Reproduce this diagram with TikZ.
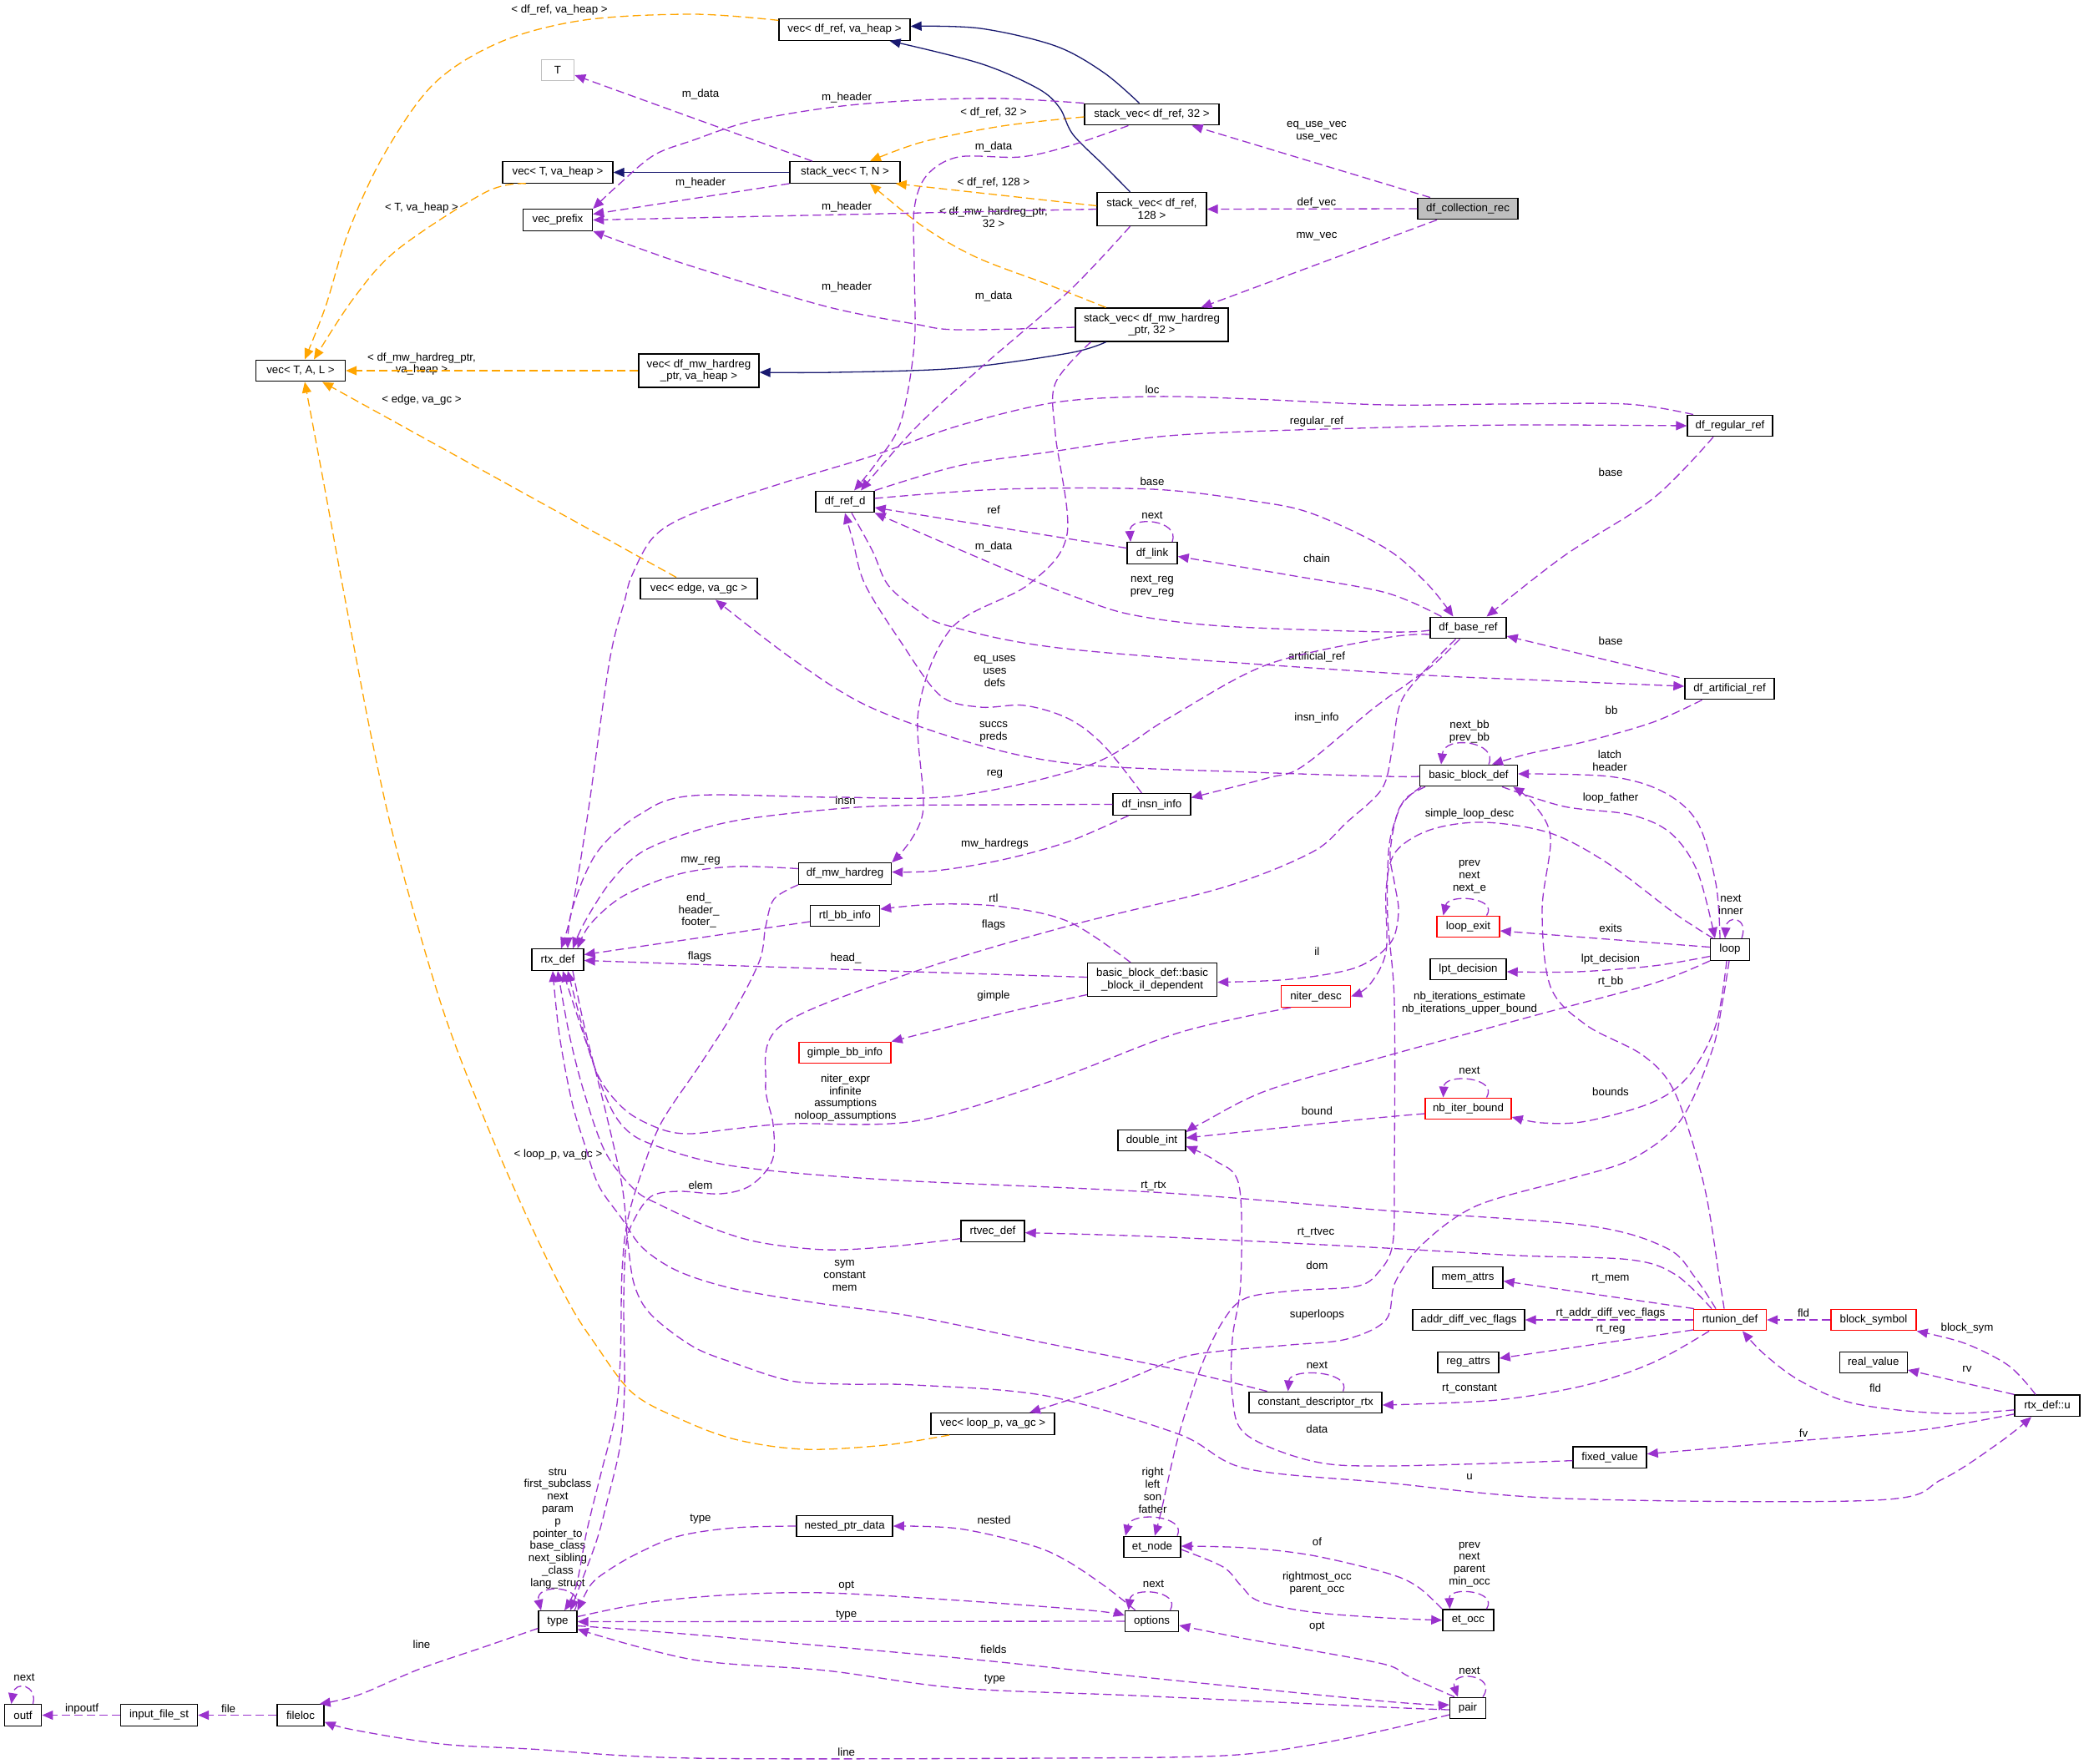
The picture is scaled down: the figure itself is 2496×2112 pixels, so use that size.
\documentclass[tikz,border=0pt]{standalone}
\usepackage{fontspec}
\setmainfont{Liberation Sans}
\usetikzlibrary{arrows.meta}
\definecolor{usec}{HTML}{9A32CD}
\definecolor{tmplc}{HTML}{FFA500}
\definecolor{inhc}{HTML}{191970}
\definecolor{grayfill}{HTML}{BFBFBF}
\definecolor{redb}{HTML}{FF0000}
\begin{document}
\begin{tikzpicture}[x=1pt,y=-1pt,
  box/.style={draw=black, line width=1.4pt, fill=white, inner xsep=2pt, inner ysep=1pt, minimum height=25.5pt, align=center, font=\fontsize{13.3}{14.6}\selectfont},
  boxtwo/.style={box, minimum height=40pt},
  redbox/.style={box, draw=redb},
  lbl/.style={align=center, inner sep=0pt, font=\fontsize{13.3}{14.8}\selectfont},
  usedge/.style={draw=usec, line width=1.3pt, dash pattern=on 10pt off 5pt, -{Triangle[length=13pt,width=11pt]}},
  tmpledge/.style={draw=tmplc, line width=1.3pt, dash pattern=on 10pt off 5pt, -{Triangle[length=13pt,width=11pt]}},
  inhedge/.style={draw=inhc, line width=1.3pt, -{Triangle[length=13pt,width=11pt]}},
  sm/.style={smooth, tension=0.55}
]
\useasboundingbox (0,0) rectangle (2496,2112);
\fill[white] (0,0) rectangle (2496,2112);

% ---------------- nodes ----------------
\node[box, minimum width=107pt] (vecTAL) at (360,444) {vec< T, A, L >};
\node[box, draw=grayfill, minimum width=39pt] (T) at (668,84) {T};
\node[box, minimum width=132pt] (vecTheap) at (668,206.5) {vec< T, va\_heap >};
\node[box, minimum width=83pt] (vecprefix) at (668,263.5) {vec\_prefix};
\node[box, minimum width=157pt] (vecdfref) at (1011.5,35.5) {vec< df\_ref, va\_heap >};
\node[box, minimum width=132pt] (svTN) at (1012,206.5) {stack\_vec< T, N >};
\node[box, minimum width=161pt] (sv32) at (1379.5,137) {stack\_vec< df\_ref, 32 >};
\node[boxtwo, minimum width=131pt] (sv128) at (1379.5,250.5) {stack\_vec< df\_ref,\\128 >};
\node[boxtwo, minimum width=183pt] (svmw) at (1379.5,389) {stack\_vec< df\_mw\_hardreg\\\_ptr, 32 >};
\node[boxtwo, minimum width=144pt] (vecmw) at (837,444) {vec< df\_mw\_hardreg\\\_ptr, va\_heap >};
\node[box, fill=grayfill, minimum width=120pt] (collection) at (1758,250) {df\_collection\_rec};
\node[box, minimum width=102pt] (regular) at (2072,510) {df\_regular\_ref};
\node[box, minimum width=70pt] (refd) at (1012,601) {df\_ref\_d};
\node[box, minimum width=60pt] (link) at (1380,662.5) {df\_link};
\node[box, minimum width=140pt] (vecedge) at (837,705) {vec< edge, va\_gc >};
\node[box, minimum width=91pt] (baseref) at (1758.5,752) {df\_base\_ref};
\node[box, minimum width=107pt] (artificial) at (2071.5,825) {df\_artificial\_ref};
\node[box, minimum width=117pt] (bbd) at (1759,929) {basic\_block\_def};
\node[box, minimum width=93pt] (insninfo) at (1379.5,963.5) {df\_insn\_info};
\node[box, minimum width=111pt] (mwhardreg) at (1012,1046.5) {df\_mw\_hardreg};
\node[box, minimum width=83pt] (rtlbb) at (1012,1097) {rtl\_bb\_info};
\node[box, minimum width=62pt] (rtxdef) at (668,1149.5) {rtx\_def};
\node[boxtwo, minimum width=155pt] (ildep) at (1380,1173.5) {basic\_block\_def::basic\\\_block\_il\_dependent};
\node[redbox, minimum width=83pt] (niter) at (1576,1193.5) {niter\_desc};
\node[redbox, minimum width=75pt] (loopexit) at (1758.5,1110) {loop\_exit};
\node[box, minimum width=47pt] (loop) at (2072,1137.5) {loop};
\node[box, minimum width=91pt] (lpt) at (1758.5,1161) {lpt\_decision};
\node[redbox, minimum width=110pt] (gimple) at (1012,1261) {gimple\_bb\_info};
\node[box, minimum width=81pt] (doubleint) at (1379.5,1366) {double\_int};
\node[redbox, minimum width=103pt] (nbiter) at (1758.5,1328) {nb\_iter\_bound};
\node[box, minimum width=76pt] (rtvec) at (1189,1474.6) {rtvec\_def};
\node[box, minimum width=84pt] (memattrs) at (1758,1530.5) {mem\_attrs};
\node[box, minimum width=134pt] (addrdiff) at (1759,1581) {addr\_diff\_vec\_flags};
\node[redbox, minimum width=87pt] (rtunion) at (2072,1581) {rtunion\_def};
\node[redbox, minimum width=102pt] (blocksym) at (2244,1581) {block\_symbol};
\node[box, minimum width=73pt] (regattrs) at (1758.5,1632) {reg\_attrs};
\node[box, minimum width=81pt] (realvalue) at (2243.7,1632) {real\_value};
\node[box, minimum width=159pt] (cdr) at (1575.6,1680) {constant\_descriptor\_rtx};
\node[box, minimum width=78pt] (rtxu) at (2452,1683.8) {rtx\_def::u};
\node[box, minimum width=148pt] (vecloop) at (1189,1705.5) {vec< loop\_p, va\_gc >};
\node[box, minimum width=88pt] (fixed) at (1928,1745.6) {fixed\_value};
\node[box, minimum width=115pt] (nested) at (1011.6,1828) {nested\_ptr\_data};
\node[box, minimum width=68pt] (etnode) at (1380,1853) {et\_node};
\node[box, minimum width=61pt] (etocc) at (1758.4,1940.7) {et\_occ};
\node[box, minimum width=64pt] (options) at (1379.6,1942) {options};
\node[box, minimum width=46pt] (type) at (668,1942.5) {type};
\node[box, minimum width=43pt] (pair) at (1758,2046) {pair};
\node[box, minimum width=44.5pt] (outf) at (27.5,2054.5) {outf};
\node[box, minimum width=92pt] (inputfile) at (190.5,2054.5) {input\_file\_st};
\node[box, minimum width=56pt] (fileloc) at (360,2054.5) {fileloc};

% ---------------- labels ----------------
\node[lbl] (l01) at (670,12) {< df\_ref, va\_heap >};
\node[lbl] (l02) at (839,113) {m\_data};
\node[lbl] (l03) at (1014,117) {m\_header};
\node[lbl] (l04) at (1190,135) {< df\_ref, 32 >};
\node[lbl] (l05) at (1577,157.5) {eq\_use\_vec\\use\_vec};
\node[lbl] (l06) at (1190,176) {m\_data};
\node[lbl] (l07) at (505,249) {< T, va\_heap >};
\node[lbl] (l08) at (839,219) {m\_header};
\node[lbl] (l09) at (1190,219) {< df\_ref, 128 >};
\node[lbl] (l10) at (1577,243) {def\_vec};
\node[lbl] (l11) at (1014,248) {m\_header};
\node[lbl] (l12) at (1190,260.5) {< df\_mw\_hardreg\_ptr,\\32 >};
\node[lbl] (l13) at (1577,283) {mw\_vec};
\node[lbl] (l14) at (1014,344) {m\_header};
\node[lbl] (l15) at (1190,354.5) {m\_data};
\node[lbl] (l16) at (505,436) {< df\_mw\_hardreg\_ptr,\\va\_heap >};
\node[lbl] (l17) at (1380,466.5) {loc};
\node[lbl] (l18) at (505,479) {< edge, va\_gc >};
\node[lbl] (l19) at (1577,505) {regular\_ref};
\node[lbl] (l20) at (1929,566) {base};
\node[lbl] (l21) at (1380,577) {base};
\node[lbl] (l22) at (1190,611) {ref};
\node[lbl] (l23) at (1380,617) {next};
\node[lbl] (l24) at (1190,655) {m\_data};
\node[lbl] (l25) at (1577,668.6) {chain};
\node[lbl] (l26) at (1380,702) {next\_reg\\prev\_reg};
\node[lbl] (l27) at (1929,767.5) {base};
\node[lbl] (l28) at (1577,787) {artificial\_ref};
\node[lbl] (l29) at (1191.5,804) {eq\_uses\\uses\\defs};
\node[lbl] (l30) at (1930,850.6) {bb};
\node[lbl] (l31) at (1577,860) {insn\_info};
\node[lbl] (l32) at (1190,876.5) {succs\\preds};
\node[lbl] (l33) at (1760,876.5) {next\_bb\\prev\_bb};
\node[lbl] (l34) at (1928,911) {latch\\header};
\node[lbl] (l35) at (1191.5,927) {reg};
\node[lbl] (l36) at (1929,956) {loop\_father};
\node[lbl] (l37) at (1012.6,958.5) {insn};
\node[lbl] (l38) at (1760,975.5) {simple\_loop\_desc};
\node[lbl] (l39) at (1191.5,1011) {mw\_hardregs};
\node[lbl] (l40) at (839,1031) {mw\_reg};
\node[lbl] (l41) at (1760,1050.5) {prev\\next\\next\_e};
\node[lbl] (l42) at (1190,1075.6) {rtl};
\node[lbl] (l43) at (837,1090.5) {end\_\\header\_\\footer\_};
\node[lbl] (l44) at (2073,1084) {next\\inner};
\node[lbl] (l45) at (1190,1108) {flags};
\node[lbl] (l46) at (1929,1111.4) {exits};
\node[lbl] (l47) at (1577.4,1139.5) {il};
\node[lbl] (l48) at (838,1146) {flags};
\node[lbl] (l49) at (1013,1148) {head\_};
\node[lbl] (l50) at (1929,1148.6) {lpt\_decision};
\node[lbl] (l51) at (1929,1175.7) {rt\_bb};
\node[lbl] (l52) at (1190,1193) {gimple};
\node[lbl] (l53) at (1760,1201.7) {nb\_iterations\_estimate\\nb\_iterations\_upper\_bound};
\node[lbl] (l54) at (1760,1282.7) {next};
\node[lbl] (l55) at (1929,1307.5) {bounds};
\node[lbl] (l56) at (1012.6,1315) {niter\_expr\\infinite\\assumptions\\noloop\_assumptions};
\node[lbl] (l57) at (1577.4,1330.5) {bound};
\node[lbl] (l58) at (668.5,1383) {< loop\_p, va\_gc >};
\node[lbl] (l59) at (839,1420) {elem};
\node[lbl] (l60) at (1381.5,1420.4) {rt\_rtx};
\node[lbl] (l61) at (1576,1477) {rt\_rtvec};
\node[lbl] (l62) at (1011.6,1527.7) {sym\\constant\\mem};
\node[lbl] (l63) at (1577.4,1515.8) {dom};
\node[lbl] (l64) at (1929,1531.7) {rt\_mem};
\node[lbl] (l65) at (1929,1572.6) {rt\_addr\_diff\_vec\_flags};
\node[lbl] (l66) at (2160,1572.6) {fld};
\node[lbl] (l67) at (1577.4,1575) {superloops};
\node[lbl] (l68) at (2356,1590.7) {block\_sym};
\node[lbl] (l69) at (1929,1593) {rt\_reg};
\node[lbl] (l70) at (1577.4,1634.8) {next};
\node[lbl] (l71) at (2356,1640) {rv};
\node[lbl] (l72) at (1760,1663) {rt\_constant};
\node[lbl] (l73) at (2246,1663) {fld};
\node[lbl] (l74) at (1577.4,1711.5) {data};
\node[lbl] (l75) at (2160,1716.5) {fv};
\node[lbl] (l76) at (1760,1768.7) {u};
\node[lbl] (l77) at (668,1830.7) {stru\\first\_subclass\\next\\param\\p\\pointer\_to\\base\_class\\next\_sibling\\\_class\\lang\_struct};
\node[lbl] (l78) at (1380.5,1785.4) {right\\left\\son\\father};
\node[lbl] (l79) at (839,1820) {type};
\node[lbl] (l80) at (1190.5,1821) {nested};
\node[lbl] (l81) at (1577.4,1846.8) {of};
\node[lbl] (l82) at (1760,1874) {prev\\next\\parent\\min\_occ};
\node[lbl] (l83) at (1577.4,1896.5) {rightmost\_occ\\parent\_occ};
\node[lbl] (l84) at (1381.5,1896.8) {next};
\node[lbl] (l85) at (1013.7,1900) {opt};
\node[lbl] (l86) at (1013.7,1935) {type};
\node[lbl] (l87) at (1577.4,1949) {opt};
\node[lbl] (l88) at (505,1970) {line};
\node[lbl] (l89) at (1190,1975.3) {fields};
\node[lbl] (l90) at (1760,2000.8) {next};
\node[lbl] (l91) at (29,2009) {next};
\node[lbl] (l92) at (1191.5,2011.7) {type};
\node[lbl] (l93) at (98,2046.6) {inpoutf};
\node[lbl] (l94) at (273.6,2046.6) {file};
\node[lbl] (l95) at (1013.7,2098.4) {line};

% ---------------- template edges ----------------
\draw[tmpledge] plot[sm] coordinates {(vecdfref.172) (830,17) (700,24) (600,50) (520,100) (460,185) (418,276) (390,367) ([xshift=5pt]vecTAL.north)};
\draw[tmpledge] plot[sm] coordinates {([xshift=-38pt]vecTheap.south) (582,230) (476,299) (423,358) ([xshift=16pt]vecTAL.north)};
\draw[tmpledge] (vecmw.west) -- (vecTAL.east);
\draw[tmpledge] ([xshift=-27pt]vecedge.north) -- ([xshift=26pt]vecTAL.south);
\draw[tmpledge] plot[sm] coordinates {([xshift=-52pt]vecloop.south) (1060,1731) (963,1736) (880,1724) (813,1699) (757,1668) (713,1610) (680,1558) (630,1455) (580,1340) (529,1205) (476,1021) (445,884) (410,700) (388,580) ([xshift=5pt]vecTAL.south)};
\draw[tmpledge] plot[sm] coordinates {([yshift=-3pt]sv32.west) (1200,151) (1105,170) ([xshift=30pt]svTN.north)};
\draw[tmpledge] ([yshift=4pt]sv128.west) -- ([xshift=-6pt]svTN.south east);
\draw[tmpledge] plot[sm] coordinates {([xshift=-55pt]svmw.north) (1253,340) (1169,308) (1105,271) ([xshift=30pt]svTN.south)};

% ---------------- inheritance edges ----------------
\draw[inhedge] plot[sm] coordinates {([xshift=-15pt]sv32.north) (1322,87) (1264,55) (1174,34) ([yshift=4pt]vecdfref.east)};
\draw[inhedge] plot[sm] coordinates {([xshift=-26pt]sv128.north) (1322,198) (1285,161) (1269,129) (1243,106) (1174,76) ([xshift=54pt]vecdfref.south)};
\draw[inhedge] (svTN.west) -- (vecTheap.east);
\draw[inhedge] plot[sm] coordinates {([xshift=-55pt]svmw.south) (1280,423) (1148,441) (1000,446) ([yshift=-2pt]vecmw.east)};

% ---------------- usage edges ----------------
\draw[usedge] ([xshift=-39pt]svTN.north) -- ([yshift=-6pt]T.east);
\draw[usedge] plot[sm] coordinates {(sv32.north west) (1200,118) (1100,120) (1000,128) (900,145) (830,168) (783,186) (740,222) (vecprefix.north east)};
\draw[usedge] (svTN.south west) -- ([yshift=7pt]vecprefix.east);
\draw[usedge] (sv128.west) -- (vecprefix.east);
\draw[usedge] plot[sm] coordinates {([yshift=-3pt]svmw.west) (1148,395) (1095,388) (989,367) (835,321) (767,298) (vecprefix.south east)};
\draw[usedge] plot[sm] coordinates {([xshift=-28pt]sv32.south) (1280,175) (1222,188) (1148,188) (1110,210) (1095,250) (1095,320) (1095,413) (1079,505) (1052,551) ([xshift=11pt]refd.north)};
\draw[usedge] plot[sm] coordinates {([xshift=-26pt]sv128.south) (1280,349) (1174,441) (1095,514) ([xshift=19pt]refd.north)};
\draw[usedge] plot[sm] coordinates {([xshift=-73pt]svmw.south) (1264,459) (1264,520) (1278,640) (1232,700) (1140,752) (1100,851) (1105,975) (mwhardreg.north east)};
\draw[usedge] ([xshift=-45pt]collection.north) -- ([xshift=48pt]sv32.south);
\draw[usedge] (collection.west) -- (sv128.east);
\draw[usedge] ([xshift=-37pt]collection.south) -- ([xshift=59pt]svmw.north);
\draw[usedge] plot[sm] coordinates {(refd.north east) (1148,558) (1253,542) (1412,521) (1660,512) (1820,509) (regular.west)};
\draw[usedge] plot[sm] coordinates {([xshift=-44pt]regular.north) (1948,484) (1800,484) (1660,485) (1500,478) (1380,475) (1264,482) (1148,510) (1042,547) (936,579) (830,615) (783,643) (757,689) (748,720) (730,792) (704,975) (685,1090) ([xshift=4pt]rtxdef.north)};
\draw[usedge] plot[sm] coordinates {([yshift=4pt]refd.east) (1200,586) (1380,586) (1500,600) (1571,615) (1660,657) (1710,700) ([xshift=-18pt]baseref.north)};
\draw[usedge] ([yshift=6pt]link.west) -- ([yshift=-7pt]refd.east);
\draw[usedge] ([xshift=24pt]link.north) .. controls (1414,622) and (1352,617) .. ([xshift=-26pt]link.north);
\draw[usedge] plot[sm] coordinates {([xshift=-32pt]baseref.north) (1660,710) (1545,689) ([yshift=-4pt]link.east)};
\draw[usedge] plot[sm] coordinates {([yshift=-3pt]baseref.west) (1660,757) (1465,750) (1359,737) (1296,718) (1200,680) (refd.south east)};
\draw[usedge] plot[sm] coordinates {([xshift=8pt]refd.south) (1045,660) (1063,700) (1095,728) (1137,750) (1285,778) (1660,806) (1850,815) ([yshift=3pt]artificial.west)};
\draw[usedge] plot[sm] coordinates {([xshift=-12pt]insninfo.north) (1322,893) (1280,861) (1227,845) (1174,847) (1126,833) (1079,769) (1036,700) (1022,650) (refd.south)};
\draw[usedge] plot[sm] coordinates {([xshift=-10pt]baseref.south) (1717,796) (1687,818) (1643,850) (1560,918) (1518,932) ([yshift=8pt]insninfo.east)};
\draw[usedge] plot[sm] coordinates {([yshift=-8pt]baseref.west) (1660,764) (1518,796) (1400,860) (1306,916) (1148,953) (1000,955) (830,953) (767,975) (715,1021) (685,1090) ([xshift=12pt]rtxdef.north)};
\draw[usedge] plot[sm] coordinates {([xshift=-15pt]baseref.south) (1703,807) (1677,843) (1667,900) (1655,945) (1613,985) (1571,1021) (1465,1063) (1280,1109) (1095,1164) (936,1228) (917,1297) (926,1347) (925,1390) (899,1420) (863,1430) (813,1427) (780,1433) (760,1460) (750,1490) (747,1558) (748,1661) (743,1730) (727,1799) (713,1850) ([xshift=15pt]type.north)};
\draw[usedge] plot[sm] coordinates {(insninfo.west) (1200,964) (1042,966) (900,980) (830,996) (768,1021) (730,1058) (700,1105) ([xshift=18pt]rtxdef.north)};
\draw[usedge] plot[sm] coordinates {([yshift=6pt]mwhardreg.west) (880,1038) (813,1047) (747,1073) (707,1107) ([xshift=-8pt]rtxdef.north east)};
\draw[usedge] ([yshift=-7pt]rtlbb.west) -- ([yshift=6pt]rtxdef.east);
\draw[usedge] plot[sm] coordinates {([yshift=3pt]ildep.west) (1095,1164) (830,1155) ([yshift=-1pt]rtxdef.east)};
\draw[usedge] plot[sm] coordinates {(mwhardreg.south west) (927,1077) (917,1110) (910,1150) (880,1210) (840,1273) (793,1343) (770,1400) (752,1460) (745,1523) (743,1627) (737,1695) (720,1764) (703,1833) (690,1900) ([xshift=8pt]type.north)};
\draw[usedge] plot[sm] coordinates {([yshift=-9pt]rtvec.west) (1068,1493) (989,1497) (909,1488) (850,1470) (790,1443) (760,1425) (725,1380) (700,1310) (682,1240) (rtxdef.south)};
\draw[usedge] plot[sm] coordinates {([xshift=-58pt]cdr.north) (1412,1641) (1253,1609) (1095,1577) (980,1561) (880,1544) (813,1523) (770,1495) (745,1460) (717,1420) (700,1370) (685,1320) (670,1240) ([xshift=-6pt]rtxdef.south)};
\draw[usedge] plot[sm] coordinates {([xshift=-17pt]rtunion.north) (2030,1530) (1996,1495) (1900,1468) (1660,1450) (1381,1428) (1060,1413) (880,1397) (787,1373) (747,1350) (720,1300) ([xshift=6pt]rtxdef.south)};
\draw[usedge] plot[sm] coordinates {([xshift=-22pt]rtunion.north) (2007,1527) (1953,1509) (1820,1504) (1660,1495) (1486,1486) (1350,1480) ([yshift=-2pt]rtvec.east)};
\draw[usedge] plot[sm] coordinates {([xshift=-7pt]rtunion.north) (2060,1536) (2041,1420) (2007,1311) (1969,1265) (1900,1228) (1857,1182) (1847,1090) (1857,1003) (1836,962) ([xshift=-6pt]bbd.south east)};
\draw[usedge] ([xshift=-43pt]rtunion.north) -- ([yshift=-4pt]memattrs.east);
\draw[usedge] (rtunion.west) -- (addrdiff.east);
\draw[usedge] ([yshift=-12pt]rtunion.west) -- ([yshift=5pt]regattrs.east);
\draw[usedge] plot[sm] coordinates {([xshift=-25pt]rtunion.south) (1980,1632) (1900,1659) (1793,1677) ([yshift=-3pt]cdr.east)};
\draw[usedge] (blocksym.west) -- (rtunion.east);
\draw[usedge] plot[sm] coordinates {([yshift=-5pt]rtxu.west) (2326,1693) (2220,1681) (2156,1654) (2113,1622) ([xshift=15pt]rtunion.south)};
\draw[usedge] plot[sm] coordinates {([xshift=-14pt]rtxu.north) (2406,1636) (2353,1609) (blocksym.south east)};
\draw[usedge] (rtxu.north west) -- ([yshift=-9pt]realvalue.east);
\draw[usedge] plot[sm] coordinates {([yshift=-10pt]rtxu.west) (2300,1713) (2140,1727) ([yshift=4pt]fixed.east)};
\draw[usedge] plot[sm] coordinates {([xshift=18pt]rtxdef.south) (700,1230) (725,1330) (745,1420) (752,1489) (760,1540) (780,1575) (830,1613) (880,1633) (947,1654) (1013,1658) (1095,1659) (1253,1672) (1412,1718) (1492,1759) (1660,1776) (1873,1795) (2246,1797) (2326,1772) (2396,1727) ([xshift=-19pt]rtxu.south)};
\draw[usedge] plot[sm] coordinates {([xshift=-30pt]niter.south) (1412,1237) (1253,1297) (1095,1343) (947,1346) (880,1352) (827,1358) (793,1353) (753,1333) (723,1300) (706,1260) ([xshift=12pt]rtxdef.south)};
\draw[usedge] plot[sm] coordinates {([yshift=-1pt]bbd.west) (1660,930) (1500,925) (1296,916) (1174,893) (1042,847) (950,790) ([xshift=20pt]vecedge.south)};
\draw[usedge] ([xshift=24pt]bbd.north) .. controls (1795,888) and (1730,880) .. ([xshift=-33pt]bbd.north);
\draw[usedge] ([xshift=-60pt]artificial.north) -- ([yshift=-10pt]baseref.east);
\draw[usedge] plot[sm] coordinates {([xshift=-33pt]artificial.south) (1980,865) (1900,888) (1830,903) ([xshift=28pt]bbd.north)};
\draw[usedge] plot[sm] coordinates {([xshift=-20pt]regular.south) (1980,597) (1873,666) ([xshift=22pt]baseref.north)};
\draw[usedge] plot[sm] coordinates {([xshift=-12pt]loop.north) (2055,1058) (2033,985) (1991,948) (1927,930) ([yshift=2pt]bbd.east)};
\draw[usedge] plot[sm] coordinates {([xshift=40pt]bbd.south) (1873,966) (1953,976) (2001,998) (2033,1044) ([xshift=-18pt]loop.north)};
\draw[usedge] ([xshift=14pt]loop.north) .. controls (2095,1098) and (2068,1095) .. ([xshift=-6pt]loop.north);
\draw[usedge] ([yshift=3pt]loop.west) -- ([yshift=-5pt]loopexit.east);
\draw[usedge] ([xshift=22pt]loopexit.north) .. controls (1795,1075) and (1735,1070) .. ([xshift=-30pt]loopexit.north);
\draw[usedge] plot[sm] coordinates {([yshift=-8pt]loop.west) (1980,1157) (1889,1164) ([yshift=-3pt]lpt.east)};
\draw[usedge] plot[sm] coordinates {(loop.south west) (1980,1178) (1847,1214) (1660,1265) (1518,1306) (1440,1345) ([yshift=10pt]doubleint.east)};
\draw[usedge] plot[sm] coordinates {([yshift=-6pt]nbiter.west) (1660,1338) (1571,1347) ([yshift=3pt]doubleint.east)};
\draw[usedge] ([xshift=22pt]nbiter.north) .. controls (1795,1290) and (1730,1285) .. ([xshift=-30pt]nbiter.north);
\draw[usedge] plot[sm] coordinates {([xshift=-4pt]loop.south) (2055,1228) (2023,1288) (1980,1320) (1900,1343) (1847,1345) ([yshift=-10pt]nbiter.east)};
\draw[usedge] plot[sm] coordinates {([xshift=-1pt]loop.south) (2063,1200) (2050,1260) (2012,1343) (1953,1389) (1873,1414) (1767,1445) (1703,1491) (1671,1536) (1660,1581) (1613,1604) (1545,1611) (1465,1618) (1412,1627) (1333,1659) ([xshift=44pt]vecloop.north)};
\draw[usedge] plot[sm] coordinates {([xshift=-52pt]bbd.south) (1683,957) (1670,986) (1663,1021) (1662,1100) (1670,1200) (1670,1400) (1668,1490) (1650,1525) (1624,1541) (1550,1546) (1492,1555) (1465,1582) (1439,1636) (1412,1718) (1391,1809) ([xshift=3pt]etnode.north)};
\draw[usedge] plot[sm] coordinates {([xshift=-57pt]bbd.south) (1676,968) (1665,1021) (1670,1057) (1675,1093) (1665,1130) (1624,1159) (1545,1173) ([yshift=-3pt]ildep.east)};
\draw[usedge] plot[sm] coordinates {([xshift=-20pt]loop.north) (2007,1095) (1927,1035) (1857,998) (1777,985) (1713,994) (1671,1021) (1660,1067) (1660,1140) (1640,1180) (niter.east)};
\draw[usedge] plot[sm] coordinates {([xshift=-26pt]ildep.north) (1280,1104) (1200,1086) (1121,1083) ([yshift=8pt]rtlbb.east)};
\draw[usedge] plot[sm] coordinates {([yshift=-18pt]ildep.west) (1200,1214) (gimple.north east)};
\draw[usedge] plot[sm] coordinates {([yshift=-4pt]fixed.west) (1660,1756) (1571,1750) (1492,1718) (1476,1672) (1476,1604) (1486,1536) (1484,1420) (1455,1390) ([yshift=-7pt]doubleint.east)};
\draw[usedge] ([xshift=33pt]cdr.north) .. controls (1620,1642) and (1545,1638) .. ([xshift=-33pt]cdr.north);
\draw[usedge] plot[sm] coordinates {(etocc.north west) (1697,1900) (1660,1884) (1571,1863) (1492,1854) ([yshift=1pt]etnode.east)};
\draw[usedge] plot[sm] coordinates {([yshift=-3pt]etnode.east) (1465,1877) (1486,1899) (1508,1918) (1571,1931) (1660,1938) (etocc.west)};
\draw[usedge] ([xshift=22pt]etocc.north) .. controls (1795,1905) and (1735,1900) .. ([xshift=-22pt]etocc.north);
\draw[usedge] ([xshift=30pt]etnode.north) .. controls (1422,1815) and (1355,1810) .. ([xshift=-32pt]etnode.north);
\draw[usedge] ([xshift=22pt]options.north) .. controls (1415,1905) and (1355,1900) .. ([xshift=-28pt]options.north);
\draw[usedge] plot[sm] coordinates {([xshift=-20pt]options.north) (1322,1899) (1275,1868) (1232,1850) (1148,1831) (nested.east)};
\draw[usedge] plot[sm] coordinates {(nested.west) (880,1830) (813,1840) (763,1861) (727,1882) (707,1899) (type.north east)};
\draw[usedge] plot[sm] coordinates {([yshift=6pt]type.east) (780,1919) (880,1910) (989,1908) (1148,1917) (1306,1929) ([yshift=7pt]options.west)};
\draw[usedge] (options.west) -- (type.east);
\draw[usedge] plot[sm] coordinates {([yshift=-5pt]type.east) (830,1958) (1148,1986) (1359,2008) (1660,2038) ([yshift=4pt]pair.west)};
\draw[usedge] plot[sm] coordinates {([yshift=-2pt]pair.west) (1660,2045) (1359,2031) (1148,2022) (989,2001) (830,1988) ([yshift=-9pt]type.east)};
\draw[usedge] plot[sm] coordinates {([xshift=-16pt]pair.north) (1687,2008) (1660,1994) (1571,1977) (1492,1963) ([yshift=-5pt]options.east)};
\draw[usedge] ([xshift=18pt]pair.north) .. controls (1795,2005) and (1735,2000) .. ([xshift=-12pt]pair.north);
\draw[usedge] plot[sm] coordinates {([yshift=-8pt]pair.west) (1660,2072) (1571,2090) (1465,2103) (1253,2106) (830,2106) (635,2095) (529,2089) (423,2072) ([yshift=-8pt]fileloc.east)};
\draw[usedge] plot[sm] coordinates {([yshift=-8pt]type.west) (582,1972) (503,1999) (430,2030) ([xshift=-6pt]fileloc.north east)};
\draw[usedge] (fileloc.west) -- (inputfile.east);
\draw[usedge] (inputfile.west) -- (outf.east);
\draw[usedge] ([xshift=12pt]outf.north) .. controls (45,2018) and (18,2013) .. ([xshift=-14pt]outf.north);
\draw[usedge] ([xshift=20pt]type.north) .. controls (705,1898) and (640,1896) .. ([xshift=-20pt]type.north);
\draw[usedge] plot[sm] coordinates {([xshift=-28pt]insninfo.south) (1280,1008) (1200,1030) (1121,1043) ([yshift=2pt]mwhardreg.east)};
\end{tikzpicture}
\end{document}
